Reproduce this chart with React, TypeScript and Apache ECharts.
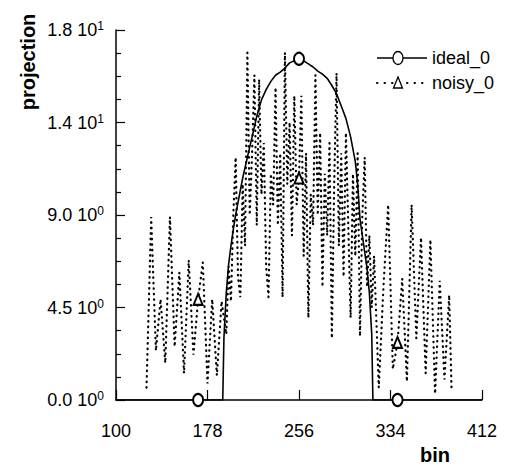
import React, { useEffect, useRef } from "react";
import * as echarts from "echarts";

const xTicks = [100, 178, 256, 334, 412];
const yTickValues = [0, 4.5, 9, 13.5, 18];
const yTickMantissa = ["0.0", "4.5", "9.0", "1.4", "1.8"];
const yTickExponent = ["0", "0", "0", "1", "1"];

const idealBins = [100, 170, 191, 192, 194, 196, 198, 200, 202, 204, 208, 212, 216, 220, 224, 228, 232, 236, 240, 244, 248, 252, 256, 260, 264, 268, 272, 276, 280, 284, 288, 292, 296, 300, 304, 306, 308, 312, 314, 316, 318, 319, 340, 412];
const idealValues = [0, 0, 0, 3.0, 5.2, 6.6, 7.5, 8.3, 9.0, 9.6, 10.8, 11.8, 12.8, 13.8, 14.6, 15.1, 15.5, 15.8, 15.95, 16.15, 16.4, 16.5, 16.6, 16.5, 16.35, 16.2, 16.0, 15.85, 15.65, 15.3, 14.9, 14.3, 13.7, 12.8, 11.6, 10.5, 8.8, 7.2, 6.4, 5.2, 3.2, 0, 0, 0];
const idealMarkerBins = [170, 256, 340];

const noisyBins = [
  126, 130, 134, 138, 142, 146, 150, 154, 158, 162, 166, 170, 174, 178, 182, 186, 190,
  194, 196, 198, 200, 202, 204, 206, 208, 210, 212, 214, 216, 218, 220, 222, 224, 226, 228, 230,
  232, 234, 236, 238, 240, 242, 244, 246, 248, 250, 252, 254, 256, 258, 260, 262, 264, 266, 268,
  270, 272, 274, 276, 278, 280, 282, 284, 286, 288, 290, 292, 294, 296, 298, 300, 302, 304, 306,
  308, 310, 312, 314, 316, 318,
  320, 324, 328, 332, 336, 340, 344, 348, 352, 356, 360, 364, 368, 372, 376, 380, 384, 386,
];
const noisyValues = [
  0.6, 8.9, 2.4, 4.9, 1.8, 8.9, 2.6, 6.2, 1.3, 6.8, 2.2, 4.9, 6.7, 0.8, 4.9, 1.2, 4.8,
  3.2, 6.5, 4.8, 9.0, 11.8, 6.0, 5.0, 10.5, 7.5, 16.9, 9.0, 12.0, 15.8, 8.5, 15.6, 10.0, 12.5, 6.5, 5.0,
  11.0, 9.5, 15.2, 8.5, 12.0, 5.0, 16.9, 10.5, 13.5, 8.0, 14.8, 9.5, 10.8, 14.8, 7.0, 12.0, 4.0, 10.0, 8.5,
  15.8, 9.0, 13.0, 5.5, 11.0, 8.0, 12.5, 3.0, 10.5, 15.9, 7.5, 12.0, 6.0, 13.0, 8.5, 4.0, 11.0, 7.0, 12.0,
  3.1, 9.0, 11.8, 5.5, 8.0, 4.5,
  7.0, 0.6, 5.5, 9.5, 1.5, 2.8, 5.9, 0.9, 9.5, 3.0, 7.9, 1.3, 7.8, 0.3, 5.8, 1.0, 5.1, 0.6,
];
const noisyMarkerBins = [170, 256, 340];

const seriesNames = ["ideal_0", "noisy_0"];
const FONT = "'Liberation Sans', Arial, Helvetica, sans-serif";

export default function App() {
  const ref = useRef<HTMLDivElement>(null);
  useEffect(() => {
    document.body.style.margin = "0";
    if (!ref.current) return;
    const chart = echarts.init(ref.current, null, { renderer: "svg" });

    const idealData = idealBins.map((b, i) =>
      idealMarkerBins.includes(b)
        ? { value: [b, idealValues[i]], symbol: "emptyCircle", symbolSize: [10, 12] }
        : { value: [b, idealValues[i]] }
    );
    const noisyData = noisyBins.map((b, i) =>
      noisyMarkerBins.includes(b)
        ? { value: [b, noisyValues[i]], symbol: "emptyTriangle", symbolSize: [9, 11] }
        : { value: [b, noisyValues[i]] }
    );

    chart.setOption({
      animation: false,
      backgroundColor: "#fff",
      grid: { left: 116, right: 23, top: 30, bottom: 67, containLabel: false },
      xAxis: {
        type: "value",
        min: 100,
        max: 412,
        splitLine: { show: false },
        axisLine: { show: true, onZero: false, lineStyle: { color: "#000", width: 1.5 } },
        axisTick: { show: true, inside: true, length: 10, customValues: xTicks, lineStyle: { color: "#000", width: 1.2 } },
        axisLabel: { customValues: xTicks, margin: 22, fontSize: 18, fontFamily: FONT, color: "#000" },
      },
      yAxis: {
        type: "value",
        min: 0,
        max: 18,
        interval: 4.5,
        splitLine: { show: false },
        axisLine: { show: true, lineStyle: { color: "#000", width: 1.5 } },
        axisTick: { show: true, inside: true, length: 9, lineStyle: { color: "#000", width: 1.2 } },
        minorTick: { show: true, splitNumber: 4, length: 5, lineStyle: { color: "#000", width: 1.2 } },
        axisLabel: {
          margin: 12,
          formatter: (v: number) => {
            const idx = yTickValues.findIndex((t) => Math.abs(t - v) < 1e-6);
            if (idx < 0) return "";
            return `{m|${yTickMantissa[idx]} 10}{e|${yTickExponent[idx]}}`;
          },
          rich: {
            m: { fontSize: 18, fontFamily: FONT, color: "#000", lineHeight: 20 },
            e: { fontSize: 12, fontFamily: FONT, color: "#000", lineHeight: 10, verticalAlign: "top" },
          },
        },
      },
      series: [
        {
          name: seriesNames[0],
          type: "line",
          data: idealData,
          symbol: "none",
          showSymbol: true,
          lineStyle: { color: "#000", width: 1.6 },
          itemStyle: { color: "#000", borderColor: "#000", borderWidth: 1.3 },
          z: 3,
        },
        {
          name: seriesNames[1],
          type: "line",
          data: noisyData,
          symbol: "none",
          showSymbol: true,
          lineStyle: { color: "#000", width: 2.2, type: [0.5, 5], cap: "round" },
          itemStyle: { color: "#000", borderColor: "#000", borderWidth: 1.3 },
          z: 2,
        },
      ],
      graphic: [
        { type: "line", shape: { x1: 377, y1: 58, x2: 427, y2: 58 }, style: { stroke: "#000", lineWidth: 1.6 } },
        { type: "ellipse", shape: { cx: 398, cy: 58, rx: 5, ry: 6.5 }, style: { fill: "#fff", stroke: "#000", lineWidth: 1.3 } },
        { type: "text", x: 432, y: 58, style: { text: seriesNames[0], font: `18px ${FONT}`, fill: "#000", textAlign: "left", textVerticalAlign: "middle" } },
        { type: "line", shape: { x1: 377, y1: 83, x2: 427, y2: 83 }, style: { stroke: "#000", lineWidth: 2, lineDash: [0.5, 7], lineCap: "round" } },
        { type: "polygon", shape: { points: [[398, 77], [393.5, 88], [402.5, 88]] }, style: { fill: "#fff", stroke: "#000", lineWidth: 1.3 } },
        { type: "text", x: 432, y: 83, style: { text: seriesNames[1], font: `18px ${FONT}`, fill: "#000", textAlign: "left", textVerticalAlign: "middle" } },
        { type: "text", x: 28, y: 62, rotation: Math.PI / 2, style: { text: "projection", font: `bold 20px ${FONT}`, fill: "#000", textAlign: "center", textVerticalAlign: "middle" } },
        { type: "text", x: 435, y: 455, style: { text: "bin", font: `bold 20px ${FONT}`, fill: "#000", textAlign: "center", textVerticalAlign: "middle" } },
      ],
    });
    return () => chart.dispose();
  }, []);
  return <div ref={ref} style={{ position: "fixed", left: 0, top: 0, width: 505, height: 467 }} />;
}
